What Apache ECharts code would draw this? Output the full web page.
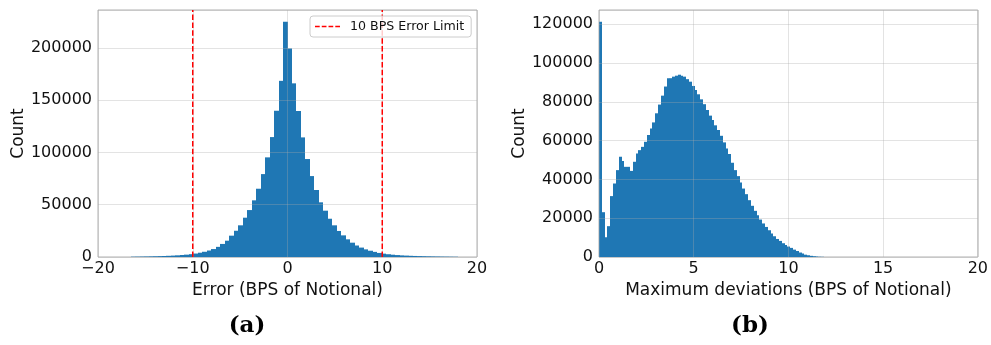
<!DOCTYPE html>
<html>
<head>
<meta charset="utf-8">
<script src="https://cdn.jsdelivr.net/npm/echarts@6/dist/echarts.min.js"></script>
<style>
  html, body { margin: 0; padding: 0; background: #fff; }
  #chart { width: 991px; height: 345px; }
</style>
</head>
<body>
<div id="chart"></div>
<script>
// Panel (a): histogram of pricing error, uniform bins
const errorBinStart = -16.555;
const errorBinWidth = 0.473;
const errorCounts = [
  300, 370, 440, 520, 610, 720, 840, 980, 1150, 1350,
  1600, 1900, 2250, 2700, 3300, 4100, 5000, 6200, 7600, 9700,
  12500, 15600, 20400, 25100, 30300, 37600, 44900, 54200, 65300, 79300,
  95300, 114700, 139900, 168500, 225000,
  199500, 166100, 139600, 114400, 93700, 77400, 64100, 52300, 44300, 36600,
  30300, 24900, 20700, 16900, 13700, 11000, 9000, 7300, 6000, 4900,
  3900, 3200, 2650, 2200, 1850, 1550, 1350, 1150, 1000, 870,
  760, 660, 570, 490, 420, 360, 300, 250
];
const errorLimits = [-10, 10];
const errorLimitLabel = '10 BPS Error Limit';

// Panel (b): histogram of maximum deviations, uniform bins
const deviationBinStart = 0;
const deviationBinWidth = 0.1485;
const deviationCounts = [
  121300, 23100, 10200, 15900, 31400, 37900, 44800, 51700, 49500, 46500,
  46500, 44400, 49100, 53400, 55100, 56800, 59400, 62900, 66300, 69400,
  74100, 78600, 83200, 87900, 92200, 92200, 93000, 93500, 94000, 93400,
  93000, 91700, 90400, 88200, 86100, 83900, 81300, 78800, 75800, 72900,
  70600, 67900, 65500, 62500, 59100, 56000, 53100, 48600, 44800, 41700,
  38400, 35300, 32400, 29300, 26400, 23800, 21500, 19300, 17300, 15500,
  13800, 12100, 10700, 9300, 8300, 7100, 6200, 5400, 4700, 3800,
  3100, 2300, 1800, 1200, 900, 600, 400, 300, 150, 100
];

const panelLabels = ['(a)', '(b)'];
const xAxisTitles = ['Error (BPS of Notional)', 'Maximum deviations (BPS of Notional)'];
const yAxisTitle = 'Count';

// ---- helpers ----
function toBins(start, width, counts) {
  return counts.map((c, i) => [start + i * width, start + (i + 1) * width, c]);
}
const errorBins = toBins(errorBinStart, errorBinWidth, errorCounts);
const deviationBins = toBins(deviationBinStart, deviationBinWidth, deviationCounts);

// matplotlib-style headroom above the tallest bar
const errorMax = Math.max(...errorCounts) * 1.05;
const deviationMax = Math.max(...deviationCounts) * 1.05;

const BAR = '#1f77b4';
const FONT = 'DejaVu Sans';
const TEXT = '#111';

// Bars snap to whole pixels horizontally so neighbouring bins meet without seams
function renderBar(params, api) {
  const top = api.coord([api.value(0), api.value(2)]);
  const base = api.coord([api.value(1), 0]);
  const x0 = Math.round(top[0]);
  const x1 = Math.round(base[0]);
  return {
    type: 'rect',
    shape: { x: x0, y: top[1], width: x1 - x0, height: base[1] - top[1] },
    style: { fill: BAR }
  };
}

const fmt = v => (v < 0 ? '\u2212' + (-v) : String(v));

const gridLine = { show: true, lineStyle: { color: 'rgba(170,170,170,0.33)', width: 1 } };
const tickLabel = { color: TEXT, fontFamily: FONT, fontSize: 16, formatter: fmt };
const titleText = { color: TEXT, fontFamily: FONT, fontSize: 17 };

function xAxisFor(i, min, max, interval) {
  return {
    type: 'value', gridIndex: i, min, max, interval, z: 3,
    axisLine: { show: false }, axisTick: { show: false },
    splitLine: gridLine,
    axisLabel: Object.assign({ margin: 4 }, tickLabel),
    name: xAxisTitles[i], nameLocation: 'middle', nameGap: 19,
    nameTextStyle: titleText
  };
}
function yAxisFor(i, max, interval) {
  return {
    type: 'value', gridIndex: i, min: 0, max, interval, z: 3,
    axisLine: { show: false }, axisTick: { show: false },
    splitLine: gridLine,
    axisLabel: Object.assign({ margin: 6, showMaxLabel: false }, tickLabel),
    name: yAxisTitle, nameLocation: 'middle', nameGap: 65,
    nameTextStyle: titleText
  };
}

function limitLine(x) {
  return {
    type: 'line', name: errorLimitLabel, xAxisIndex: 0, yAxisIndex: 0, z: 4,
    data: [[x, 0], [x, errorMax]],
    symbol: 'none', silent: true, animation: false,
    lineStyle: { color: '#ff0000', width: 1.5, type: [5.5, 2.4] },
    itemStyle: { color: '#ff0000' }
  };
}

const panelTitle = (text, x) => ({
  text, left: x, top: 315, textAlign: 'center', padding: 0,
  textStyle: { fontFamily: 'DejaVu Serif', fontWeight: 'bold', fontSize: 23, color: '#000' }
});

const chart = echarts.init(document.getElementById('chart'), null, { renderer: 'canvas' });
chart.setOption({
  animation: false,
  backgroundColor: '#fff',
  title: [panelTitle(panelLabels[0], 247), panelTitle(panelLabels[1], 750)],
  legend: {
    left: 310, top: 16, z: 6,
    data: [{
      name: errorLimitLabel,
      icon: 'path://M0,0h3.7v1h-3.7z M5.3,0h3.7v1h-3.7z M10.6,0h3.7v1h-3.7z M15.9,0h3.7v1h-3.7z',
      itemStyle: { color: '#ff0000', borderWidth: 0 }
    }],
    itemWidth: 25, itemHeight: 1.5, symbolKeepAspect: false,
    padding: [4, 7, 4, 5],
    backgroundColor: 'rgba(255,255,255,0.8)',
    borderColor: '#cccccc', borderWidth: 1, borderRadius: 3,
    selectedMode: false,
    textStyle: { color: TEXT, fontFamily: FONT, fontSize: 12.6, padding: [0, 0, 0, 5] }
  },
  grid: [
    { left: 98, top: 10, width: 379, height: 247, show: true, borderColor: '#b0b0b0', borderWidth: 1, backgroundColor: 'transparent' },
    { left: 599, top: 10, width: 379, height: 247, show: true, borderColor: '#b0b0b0', borderWidth: 1, backgroundColor: 'transparent' }
  ],
  xAxis: [xAxisFor(0, -20, 20, 10), xAxisFor(1, 0, 20, 5)],
  yAxis: [yAxisFor(0, errorMax, 50000), yAxisFor(1, deviationMax, 20000)],
  series: [
    { type: 'custom', xAxisIndex: 0, yAxisIndex: 0, renderItem: renderBar,
      encode: { x: [0, 1], y: 2 }, data: errorBins, silent: true },
    { type: 'custom', xAxisIndex: 1, yAxisIndex: 1, renderItem: renderBar,
      encode: { x: [0, 1], y: 2 }, data: deviationBins, silent: true },
    limitLine(errorLimits[0]),
    limitLine(errorLimits[1])
  ]
});
</script>
</body>
</html>
